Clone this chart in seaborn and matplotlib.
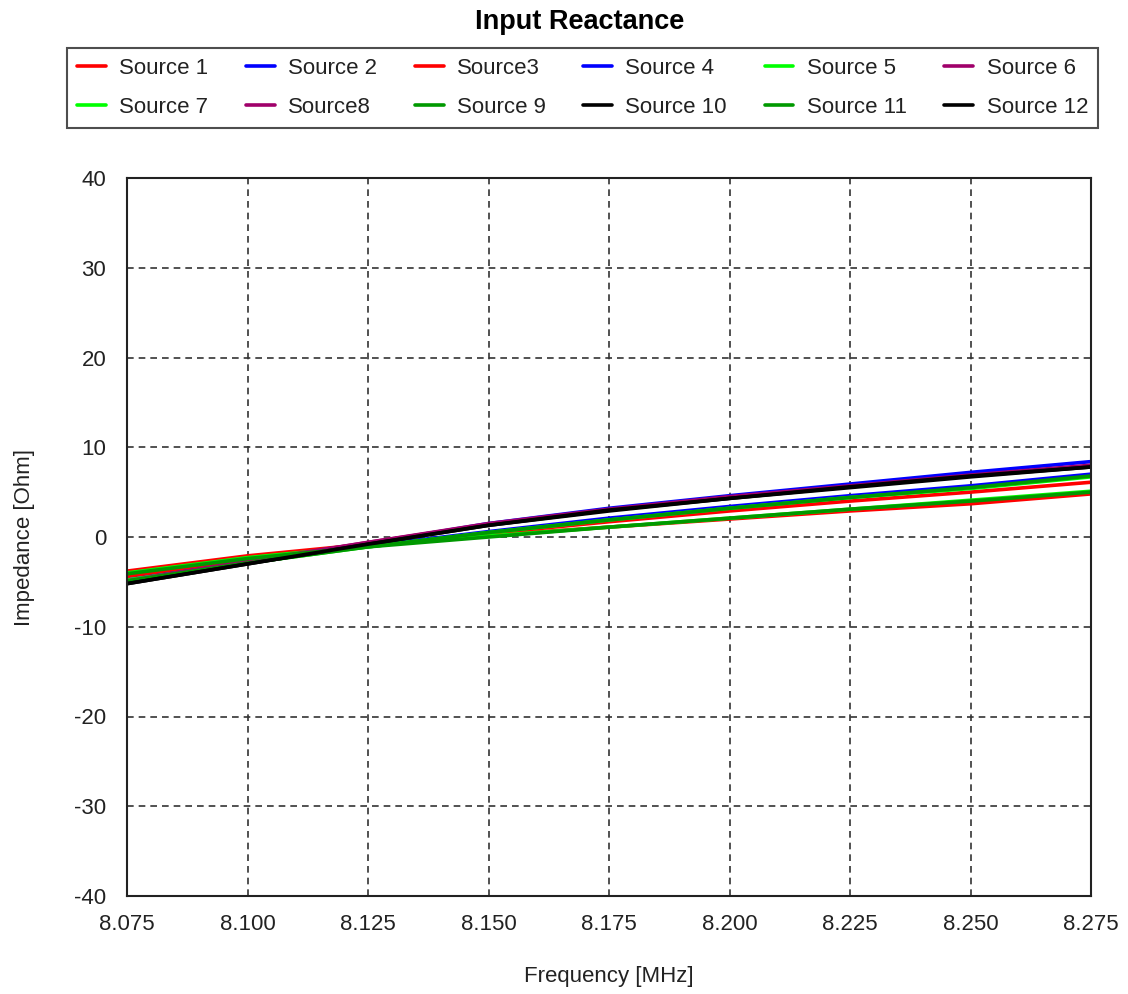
import numpy as np
import pandas as pd
import matplotlib
matplotlib.use("Agg")
import matplotlib.pyplot as plt
import seaborn as sns
from matplotlib.lines import Line2D

freq = [8.075, 8.100, 8.125, 8.150, 8.175, 8.200, 8.225, 8.250, 8.275]

source_names = ["Source 1", "Source 2", "Source3", "Source 4", "Source 5", "Source 6",
                "Source 7", "Source8", "Source 9", "Source 10", "Source 11", "Source 12"]

s1 = [-3.8, -2.1, -0.8, 0.2, 1.1, 2.0, 2.9, 3.7, 4.8]
s2 = [-5.1, -2.9, -0.7, 1.5, 3.2, 4.6, 5.9, 7.2, 8.4]
s3 = [-4.4, -2.6, -1.0, 0.4, 1.7, 2.9, 4.0, 5.0, 6.1]
s4 = [-4.8, -2.8, -1.0, 0.6, 2.1, 3.4, 4.6, 5.7, 7.0]
s5 = [-4.0, -2.3, -1.0, 0.1, 1.1, 2.1, 3.1, 4.1, 5.1]
s6 = [-5.0, -2.8, -0.6, 1.5, 3.1, 4.5, 5.7, 6.9, 8.0]
s7 = [-4.8, -2.9, -1.1, 0.5, 1.9, 3.2, 4.4, 5.4, 6.7]
s8 = [-4.9, -2.7, -0.6, 1.4, 3.0, 4.4, 5.6, 6.8, 7.9]
s9 = [-4.9, -2.9, -1.1, 0.5, 1.9, 3.2, 4.4, 5.5, 6.8]
s10 = [-5.2, -3.0, -0.8, 1.3, 3.0, 4.3, 5.6, 6.8, 7.8]
s11 = [-4.1, -2.4, -1.1, 0.0, 1.1, 2.1, 3.1, 4.0, 5.0]
s12 = [-5.2, -3.0, -0.8, 1.3, 2.9, 4.3, 5.5, 6.7, 7.8]

series = [s1, s2, s3, s4, s5, s6, s7, s8, s9, s10, s11, s12]

RED, BLUE, LIME, PURPLE, GREEN, BLACK = "#FF0000", "#0000FF", "#00FF00", "#A0006A", "#009900", "#000000"
colors = [RED, BLUE, RED, BLUE, LIME, PURPLE, LIME, PURPLE, GREEN, BLACK, GREEN, BLACK]

x_ticks = [8.075, 8.100, 8.125, 8.150, 8.175, 8.200, 8.225, 8.250, 8.275]
y_ticks = [-40, -30, -20, -10, 0, 10, 20, 30, 40]

rows = []
for name, vals in zip(source_names, series):
    for f, v in zip(freq, vals):
        rows.append({"Frequency": f, "Impedance": v, "Source": name})
df = pd.DataFrame(rows)
palette = dict(zip(source_names, colors))

sns.set_theme(style="white")
plt.rcParams["font.family"] = ["Liberation Sans", "DejaVu Sans"]

fig = plt.figure(figsize=(11.28, 9.94), dpi=100)
ax = fig.add_axes([127 / 1128, 1 - 896 / 994, (1091 - 127) / 1128, (896 - 178) / 994])

sns.lineplot(data=df, x="Frequency", y="Impedance", hue="Source", hue_order=source_names,
             palette=palette, linewidth=2.6, ax=ax, legend=False, sort=True)

ax.set_xlim(8.075, 8.275)
ax.set_ylim(-40, 40)
ax.set_xticks(x_ticks)
ax.set_xticklabels([f"{t:.3f}" for t in x_ticks])
ax.set_yticks(y_ticks)
ax.set_yticklabels([str(t) for t in y_ticks])
ax.tick_params(axis="both", length=0, labelsize=16, colors="#222222")
ax.tick_params(axis="x", pad=13)
ax.tick_params(axis="y", pad=15)
ax.grid(True, color="#333333", linestyle=(0, (4, 3)), linewidth=1.2)
for sp in ax.spines.values():
    sp.set_color("#222222")
    sp.set_linewidth(1.5)
ax.set_xlabel("Frequency [MHz]", fontsize=16, color="#222222", labelpad=22)
ax.set_ylabel("Impedance [Ohm]", fontsize=16, color="#222222", labelpad=28)

fig.text(580 / 1128, 1 - 22 / 994, "Input Reactance", ha="center", va="center",
         fontsize=19.5, fontweight="bold", color="#000000")

# matplotlib fills legend columns first; reorder so entries read row by row
ncol = 6
nrow = 2
order = [r * ncol + c for c in range(ncol) for r in range(nrow)]
handles = [Line2D([0], [0], color=colors[i], linewidth=2.6) for i in order]
labels = [source_names[i] for i in order]
leg = fig.legend(handles, labels, ncol=ncol, loc="lower left",
                 bbox_to_anchor=(67 / 1128, 1 - 128 / 994, (1098 - 67) / 1128, (128 - 45) / 994),
                 mode="expand", fontsize=16, frameon=True, fancybox=False, shadow=False,
                 handlelength=1.3, handletextpad=0.6, columnspacing=1.0, borderaxespad=0.0,
                 labelspacing=0.8, borderpad=0.45)
leg.get_frame().set_edgecolor("#222222")
leg.get_frame().set_linewidth(1.5)
for t in leg.get_texts():
    t.set_color("#222222")

fig.savefig("out.png", dpi=100, facecolor="white")
